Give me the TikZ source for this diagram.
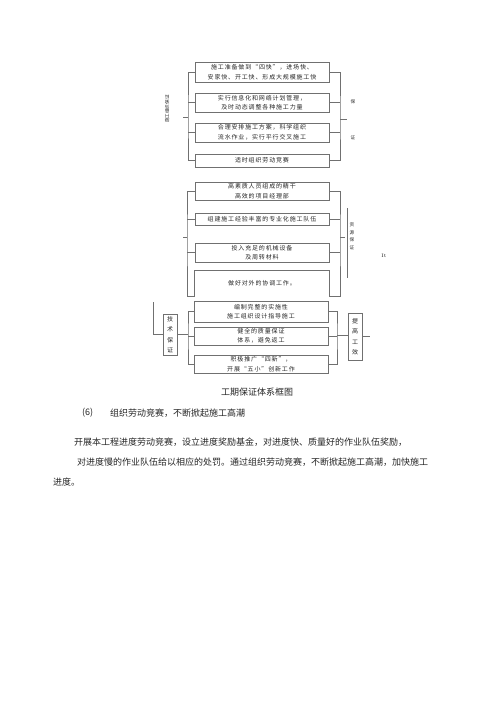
\documentclass[tikz,border=0pt]{standalone}
\usepackage{fontspec}
\newfontfamily\cjkfont{Noto Sans CJK SC}
\newfontfamily\boxfont[LetterSpace=14]{Noto Sans CJK SC}
\usetikzlibrary{positioning}
\definecolor{linegray}{HTML}{707070}
\definecolor{textgray}{HTML}{262626}

\begin{document}
\begin{tikzpicture}[
    x=1pt, y=-1pt,
    box/.style={draw=linegray, line width=0.8pt, align=center, minimum width=134pt, inner sep=1pt, text=textgray, font=\boxfont\fontsize{6}{9.5}\selectfont},
    tagbox/.style={draw=linegray, line width=0.8pt, align=center, minimum width=14pt, inner sep=1pt, text=textgray, font=\boxfont\fontsize{6}{10.5}\selectfont},
    link/.style={draw=linegray, line width=0.8pt},
    tiny/.style={text=textgray, inner sep=0pt, font=\cjkfont\fontsize{4.6}{7.5}\selectfont},
    body/.style={anchor=west, inner sep=0pt, text=black!85, font=\cjkfont\fontsize{9}{11}\selectfont}
]
\useasboundingbox[fill=white] (0,0) rectangle (500,707);

% first group
\node[box, minimum height=20pt] (b1) at (262,72) {施工准备做到“四快”，进场快、\\安家快、开工快、形成大规模施工快};
\node[box, minimum height=19pt] (b2) at (262,102.5) {实行信息化和网络计划管理，\\及时动态调整各种施工力量};
\node[box, minimum height=19pt] (b3) at (262,132.5) {合理安排施工方案，科学组织\\流水作业，实行平行交叉施工};
\node[box, minimum height=13pt] (b4) at (262,160.5) {适时组织劳动竞赛};
\coordinate (g1l) at (188,117);
\coordinate (g1r) at (340,119);
\draw[link] (b1.west) -| (g1l) |- (b4.west);
\draw[link] (b2.west) -- (b2.west -| g1l);
\draw[link] (b3.west) -- (b3.west -| g1l);
\draw[link] (g1l) -- ++(-5,0);
\draw[link] (b1.east) -| (g1r) |- (b4.east);
\draw[link] (b2.east) -- (b2.east -| g1r);
\draw[link] (b3.east) -- (b3.east -| g1r);
\draw[link] (g1r) -- ++(7,0);
\node[tiny, rotate=90] (orglabel) at (167,109) {施工组织保证};
\node[tiny] (r1a) at (353,102) {保};
\node[tiny] (r1b) at (353,138) {证};

% second group
\node[box, minimum height=18pt] (b5) at (262,191) {高素质人员组成的精干\\高效的项目经理部};
\node[box, minimum height=12pt] (b6) at (262,219.5) {组建施工经验丰富的专业化施工队伍};
\node[box, minimum height=19pt] (b7) at (262,252.5) {投入充足的机械设备\\及周转材料};
\node[box, draw=none, minimum height=25pt] (b8) at (262,283) {做好对外的协调工作。};
\draw[link] (b8.south west) -- (b8.north west) -- (b8.north east) -- (b8.south east);
\coordinate (g2l) at (187,237);
\coordinate (g2r) at (340,237);
\draw[link] (b5.west) -| (g2l) |- (b8.south west);
\draw[link] (b6.west) -- (b6.west -| g2l);
\draw[link] (b7.west) -- (b7.west -| g2l);
\draw[link] (g2l) -- ++(-4,0);
\draw[link] (b5.east) -| (g2r) |- (b8.south east);
\draw[link] (b6.east) -- (b6.east -| g2r);
\draw[link] (b7.east) -- (b7.east -| g2r);
\draw[link] (g2r) -- ++(5,0);
\coordinate (sidetop) at (347,208);
\coordinate (sidebot) at (347,278);
\draw[link] (sidetop) -- (sidebot);
\node[tiny, align=center] (reslabel) at (352,236) {资\\源\\保\\证};
\node[tiny, font=\fontsize{5}{6}\selectfont] (stray) at (384,256) {It};

% third group
\node[box, minimum height=21pt] (b9) at (261,311.5) {编制完整的实施性\\施工组织设计指导施工};
\node[box, minimum height=18pt] (b10) at (261,336) {健全的质量保证\\体系，避免返工};
\node[box, minimum height=18pt] (b11) at (261,364) {积极推广“四新”，\\开展“五小”创新工作};
\coordinate (g3l) at (188,335);
\coordinate (g3r) at (337,335);
\draw[link] (b9.west) -| (g3l) |- (b11.west);
\draw[link] (b10.west) -- (b10.west -| g3l);
\draw[link] (b9.east) -| (g3r) |- (b11.east);
\draw[link] (b10.east) -- (b10.east -| g3r);
\node[tagbox, minimum height=41pt] (tech) at (170,334.5) {技\\术\\保\\证};
\node[tagbox, minimum height=47pt] (eff) at (355,336.5) {提\\高\\工\\效};
\coordinate (uptop) at (153,302);
\draw[link] (tech.west) -| (uptop);
\draw[link] (tech.east) -- (tech.east -| g3l);
\draw[link] (g3r) -- (g3r -| eff.west);
\draw[link] (eff.east) -- ++(8,0);

% caption and text
\node[body, anchor=center] (caption) at (257,392) {工期保证体系框图};
\node[body] (num) at (82,413) {(6)};
\node[body] (head) at (110,413) {组织劳动竞赛，不断掀起施工高潮};
\node[body] (line1) at (74,442) {开展本工程进度劳动竞赛，设立进度奖励基金，对进度快、质量好的作业队伍奖励，};
\node[body] (line2) at (77,462) {对进度慢的作业队伍给以相应的处罚。通过组织劳动竞赛，不断掀起施工高潮，加快施工};
\node[body] (line3) at (53,482) {进度。};
\end{tikzpicture}
\end{document}
